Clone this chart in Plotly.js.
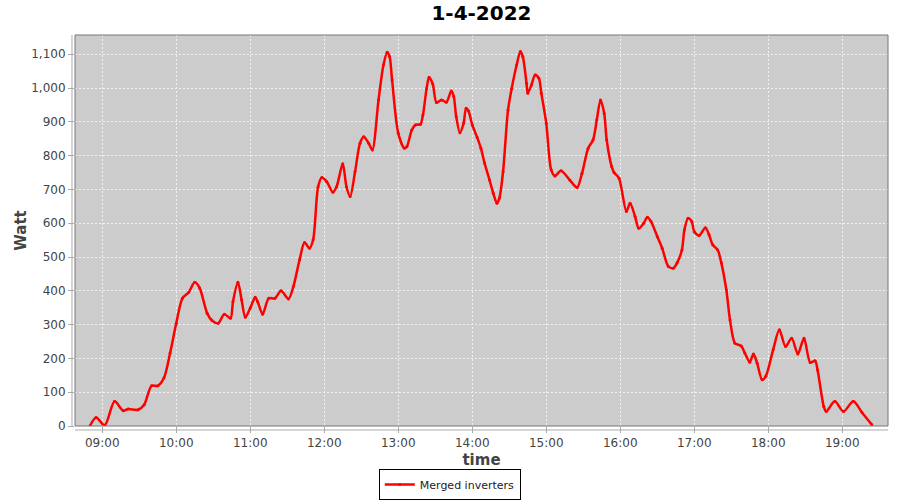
<!DOCTYPE html>
<html>
<head>
<meta charset="utf-8">
<script src="https://cdn.plot.ly/plotly-3.0.1.min.js"></script>
<style>html,body{margin:0;padding:0;background:#fff;}#chart{width:900px;height:500px;}</style>
</head>
<body>
<div id="chart"></div>
<script>
const day = '2022-04-01';
const times = ['08:50','08:55','09:02','09:10','09:17','09:21','09:29','09:34','09:40','09:45',
'09:50','09:55','10:00','10:05','10:10','10:15','10:19','10:25','10:29','10:34',
'10:39','10:44','10:46','10:50','10:53','10:56','11:00','11:04','11:06','11:10',
'11:15','11:20','11:25','11:31','11:35','11:40','11:44','11:48','11:51','11:55',
'11:58','12:02','12:07','12:10','12:15','12:18','12:21','12:25','12:29','12:32',
'12:36','12:39','12:44','12:48','12:51','12:53','12:55','13:00','13:05','13:07',
'13:11','13:14','13:18','13:20','13:23','13:25','13:28','13:31','13:35','13:39',
'13:43','13:45','13:47','13:50','13:53','13:55','13:57','14:00','14:04','14:07',
'14:10','14:14','14:17','14:20','14:22','14:25','14:29','14:32','14:36','14:39',
'14:41','14:44','14:45','14:48','14:51','14:54','14:56','15:00','15:04','15:07',
'15:12','15:19','15:25','15:29','15:34','15:38','15:41','15:44','15:47','15:49',
'15:53','15:55','15:59','16:05','16:08','16:12','16:15','16:19','16:22','16:25',
'16:30','16:34','16:39','16:43','16:46','16:50','16:52','16:55','16:58','17:00',
'17:04','17:09','17:12','17:15','17:19','17:22','17:26','17:29','17:33','17:38',
'17:41','17:45','17:48','17:51','17:55','17:58','18:04','18:09','18:14','18:19',
'18:24','18:29','18:34','18:38','18:40','18:45','18:47','18:54','19:01','19:09',
'19:16','19:24'];
const watt = [0,25,2,73,45,50,48,63,119,119,
142,216,304,378,395,425,408,334,312,304,
331,319,368,425,373,322,349,381,368,331,
378,378,400,376,413,492,543,526,551,708,
735,723,692,708,776,708,679,753,837,856,
837,817,965,1068,1106,1093,1024,866,822,827,
876,891,893,920,999,1032,1012,957,965,958,
991,975,915,868,896,940,932,891,854,822,
778,728,689,659,674,753,935,999,1068,1108,
1093,1014,985,1009,1039,1029,985,896,758,740,
755,728,706,748,822,847,906,965,925,847,
768,750,733,635,659,620,585,600,618,605,
561,526,472,467,482,521,580,615,605,575,
564,587,566,536,521,482,403,314,245,237,
216,189,213,186,137,147,226,285,235,260,
213,260,188,193,166,58,43,73,43,73,
40,4];
const seriesName = 'Merged inverters';
const titleText = '1-4-2022';
const xTitle = 'time';
const yTitle = 'Watt';

const x = times.map(t => day + ' ' + t);

const trace = {
  x: x, y: watt, type: 'scatter', mode: 'lines+markers', name: seriesName,
  line: {color: '#ff0000', width: 2.5, shape: 'spline', smoothing: 0.8},
  marker: {color: '#ff0000', size: 3},
  cliponaxis: true
};

const font = 'DejaVu Sans, Tahoma, sans-serif';
const layout = {
  width: 900, height: 500,
  margin: {l: 75, r: 12, t: 35, b: 74, pad: 0, autoexpand: false},
  paper_bgcolor: '#ffffff',
  plot_bgcolor: '#cccccc',
  showlegend: true,
  title: {text: '<b>' + titleText + '</b>', x: 0.5, xref: 'paper', xanchor: 'center', y: 0.974, yref: 'container', yanchor: 'middle',
    font: {family: font, size: 20, color: '#000'}},
  xaxis: {
    type: 'date',
    automargin: false,
    range: [day + ' 08:37:54', day + ' 19:37:06'],
    dtick: 3600000, tick0: day + ' 09:00',
    tickformat: '%H:%M',
    showgrid: true, gridcolor: '#f2f2f2', griddash: '2px,2px', gridwidth: 1,
    zeroline: false, showline: false,
    ticks: 'outside', ticklen: 6, tickcolor: '#aaaaaa', tickwidth: 1,
    tickfont: {family: font, size: 12, color: '#444444'},
    title: {text: '<b>' + xTitle + '</b>', font: {family: font, size: 15, color: '#444444'}, standoff: 5},
    fixedrange: true
  },
  yaxis: {
    automargin: false,
    range: [0, 1157],
    dtick: 100, tick0: 0,
    tickformat: ',d',
    showgrid: true, gridcolor: '#f2f2f2', griddash: '2px,2px', gridwidth: 1,
    zeroline: false, showline: false,
    ticks: 'outside', ticklen: 6, tickcolor: '#aaaaaa', tickwidth: 1,
    tickfont: {family: font, size: 12, color: '#444444'},
    title: {text: '<b>' + yTitle + '</b>', font: {family: font, size: 15, color: '#444444'}, standoff: 0},
    fixedrange: true
  },
  legend: {
    orientation: 'h', x: 0.461, xanchor: 'center', y: 0.0, yref: 'container', yanchor: 'bottom',
    bordercolor: '#000000', borderwidth: 1, bgcolor: '#ffffff',
    font: {family: font, size: 11, color: '#222222'},
    itemwidth: 30, tracegroupgap: 0
  },
  shapes: [
    {type: 'rect', xref: 'paper', yref: 'paper', x0: 0, x1: 1, y0: 0, y1: 1,
      line: {color: '#777777', width: 1}, fillcolor: 'rgba(0,0,0,0)', layer: 'above'},
    {type: 'line', xref: 'paper', yref: 'paper', x0: 0, x1: 1, y0: -0.0102, y1: -0.0102,
      line: {color: '#aaaaaa', width: 1}},
    {type: 'line', xref: 'paper', yref: 'paper', x0: -0.0037, x1: -0.0037, y0: 0, y1: 1,
      line: {color: '#aaaaaa', width: 1}}
  ]
};

Plotly.newPlot('chart', [trace], layout, {staticPlot: true, displayModeBar: false});
</script>
</body>
</html>
